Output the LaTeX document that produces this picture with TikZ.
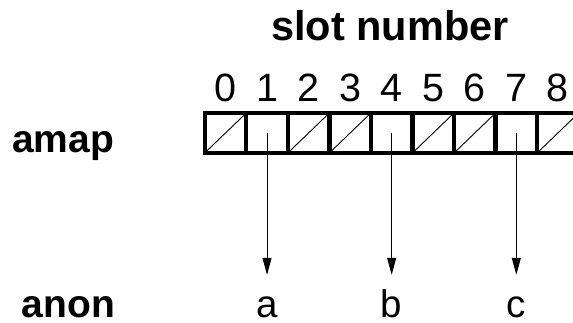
\documentclass[tikz,border=0pt]{standalone}
\usepackage{fontspec}
\setmainfont{Liberation Sans}
\usetikzlibrary{arrows.meta}

\tikzset{
  slot/.style={draw, line width=4.3pt, minimum width=41.55pt, minimum height=40pt,
               inner sep=0pt, outer sep=0pt},
  slash/.style={line width=0.9pt},
  label/.style={font=\fontsize{39}{47}\selectfont\bfseries, inner sep=0pt},
  digit/.style={font=\fontsize{39.5}{48}\selectfont, inner sep=0pt, anchor=base},
  target/.style={font=\fontsize{38.5}{46}\selectfont, inner sep=0pt, anchor=base,
                 text height=43pt, text depth=0pt},
  ptr/.style={line width=0.9pt, -{Triangle[length=17pt,width=9pt]}}
}

\begin{document}
\begin{tikzpicture}[x=1pt,y=1pt]
\useasboundingbox (0,0) rectangle (573,323);

% headings
\node[label, anchor=base, font=\fontsize{41.5}{50}\selectfont\bfseries] (title) at (390,282.3) {slot number};
\node[label, anchor=base west] (amap) at (12,170.7) {amap};
\node[label, anchor=base west] (anon) at (21.5,5.7) {anon};

% slot array with slot numbers above
\foreach \i in {0,...,8} {
  \node[slot] (s\i) at ({204.7+(\i+0.5)*41.55},190) {};
  \node[digit] (d\i) at ({204.7+(\i+0.5)*41.55},221) {\i};
}
% unused slots are struck through
\foreach \i in {0,2,3,5,6,8} {
  \draw[slash] (s\i.south west) -- (s\i.north east);
}

% anon entries
\node[target] (a) at (s1 |- 0,5) {a};
\node[target] (b) at (s4 |- 0,5) {b};
\node[target] (c) at (s7 |- 0,5) {c};

% pointers from used slots
\draw[ptr] (s1.center) -- (a.north);
\draw[ptr] (s4.center) -- (b.north);
\draw[ptr] (s7.center) -- (c.north);
\end{tikzpicture}
\end{document}
